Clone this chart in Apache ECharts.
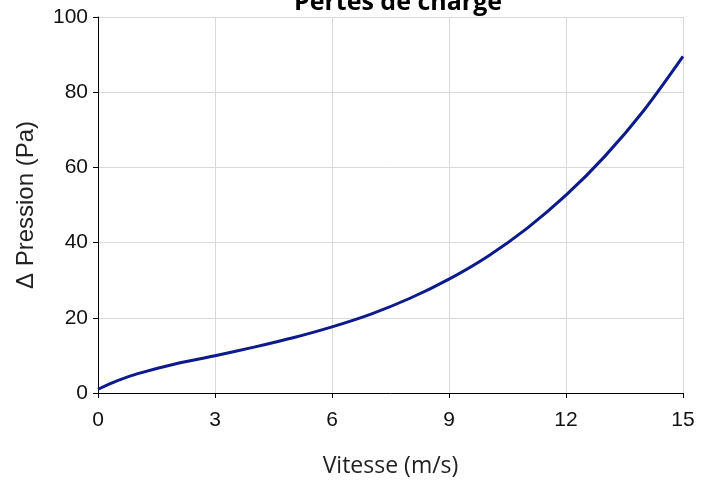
<!DOCTYPE html>
<html>
<head>
<meta charset="utf-8">
<script src="https://cdn.jsdelivr.net/npm/echarts@6/dist/echarts.min.js"></script>
<style>
  html, body { margin: 0; padding: 0; background: #fff; }
  #chart { width: 715px; height: 483px; }
</style>
</head>
<body>
<div id="chart"></div>
<script>
// vitesse (m/s) et perte de charge (Pa)
var vitesse = [0, 0.5, 1, 2, 3, 4, 5, 6, 7, 8, 9, 10, 11, 12, 13, 14, 15]
var pression = [1, 3.3, 5.1, 7.8, 9.9, 12.2, 14.7, 17.6, 21.0, 25.2, 30.3, 36.4, 43.8, 52.6, 63.0, 75.2, 89.5]
var xTicks = [0, 3, 6, 9, 12, 15]
var yTicks = [0, 20, 40, 60, 80, 100]

var points = vitesse.map(function (v, i) { return [v, pression[i]] })

var myChart = echarts.init(document.getElementById('chart'))
var option = {
  animation: false,
  title: {
    text: 'Pertes de charge',
    left: 289,
    top: -15,
    textStyle: {
      fontFamily: 'Open Sans',
      fontWeight: 'bold',
      fontSize: 25,
      color: '#000'
    }
  },
  grid: {
    left: 98,
    right: 32,
    top: 17,
    bottom: 90
  },
  xAxis: {
    type: 'value',
    min: xTicks[0],
    max: xTicks[xTicks.length - 1],
    interval: 3,
    name: 'Vitesse (m/s)',
    nameLocation: 'middle',
    nameGap: 62,
    nameTextStyle: {
      fontFamily: 'Open Sans',
      fontSize: 23,
      color: '#222'
    },
    axisLine: { lineStyle: { color: '#000', width: 1 } },
    axisTick: { show: true, length: 5, lineStyle: { color: '#000' } },
    axisLabel: {
      fontFamily: 'Liberation Sans',
      fontSize: 21,
      color: '#111',
      margin: 17
    },
    splitLine: { show: true, lineStyle: { color: '#d9d9d9', width: 1 } }
  },
  yAxis: {
    type: 'value',
    min: yTicks[0],
    max: yTicks[yTicks.length - 1],
    interval: 20,
    name: 'Δ Pression (Pa)',
    nameLocation: 'middle',
    nameGap: 60,
    nameTextStyle: {
      fontFamily: 'Liberation Sans',
      fontSize: 24,
      color: '#222'
    },
    axisLine: { show: true, lineStyle: { color: '#000', width: 1 } },
    axisTick: { show: true, length: 5, lineStyle: { color: '#000' } },
    axisLabel: {
      fontFamily: 'Liberation Sans',
      fontSize: 21,
      color: '#111',
      margin: 10
    },
    splitLine: { show: true, lineStyle: { color: '#d9d9d9', width: 1 } }
  },
  series: [
    {
      type: 'line',
      smooth: 0.3,
      showSymbol: false,
      lineStyle: { color: '#0d1a8a', width: 3 },
      data: points
    }
  ]
}
myChart.setOption(option)
</script>
</body>
</html>
